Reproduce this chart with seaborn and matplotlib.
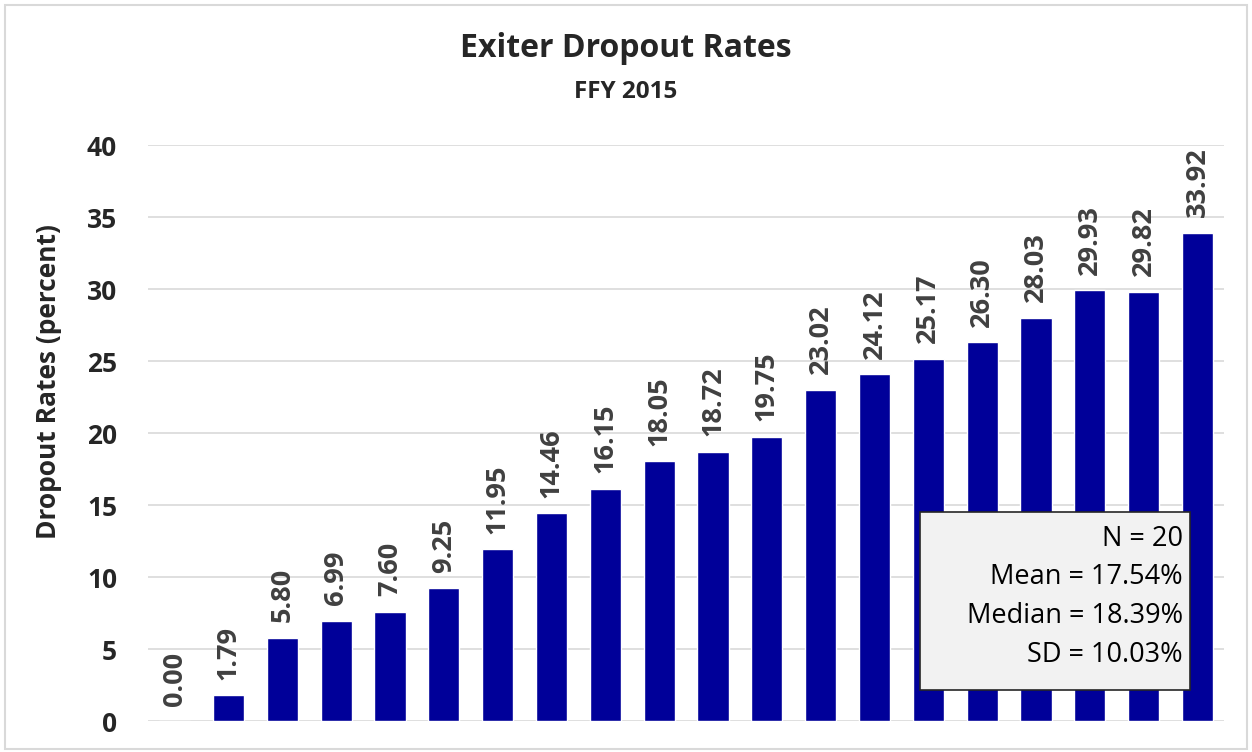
import pandas as pd
import matplotlib.pyplot as plt
import matplotlib.patches as mpatches
import seaborn as sns

# Data
states = [f"S{i}" for i in range(1, 21)]
rates = [0.00, 1.79, 5.80, 6.99, 7.60, 9.25, 11.95, 14.46, 16.15, 18.05,
         18.72, 19.75, 23.02, 24.12, 25.17, 26.30, 28.03, 29.93, 29.82, 33.92]
stats_lines = ["N = 20", "Mean = 17.54%", "Median = 18.39%", "SD = 10.03%"]

df = pd.DataFrame({"State": states, "Rate": rates})

sns.set_style("white")
plt.rcParams['font.family'] = ['Open Sans', 'DejaVu Sans']

fig = plt.figure(figsize=(12.52, 7.52), dpi=100)
ax = fig.add_axes([0.118, 0.041, 0.860, 0.766])

sns.barplot(x="State", y="Rate", data=df, color="#000099", width=0.58,
            saturation=1, ax=ax, zorder=3)

ax.set_ylim(0, 40)
ax.set_xlim(-0.5, 19.5)
ax.set_yticks(range(0, 41, 5))
ax.yaxis.grid(True, color="#d9d9d9", linewidth=1.2, zorder=0)
ax.set_axisbelow(True)
ax.set_xticks([])
ax.set_xlabel("")
ax.set_ylabel("Dropout Rates (percent)", fontsize=19, fontweight="bold")
ax.yaxis.set_label_coords(-0.08, 0.59)
for lbl in ax.get_yticklabels():
    lbl.set_fontsize(19)
    lbl.set_fontweight("bold")
ax.tick_params(axis="y", length=0, pad=22)
sns.despine(ax=ax, left=True, bottom=True, top=True, right=True)

# value labels
for i, v in enumerate(rates):
    ax.annotate(f"{v:.2f}", (i, v), xytext=(0, 11), textcoords="offset points",
                rotation=90, ha="center", va="bottom", fontsize=19.5,
                fontweight="bold", color="#404040", annotation_clip=False)

# titles
fig.text(0.5, 0.935, "Exiter Dropout Rates", ha="center", va="center",
         fontsize=23, fontweight="bold")
fig.text(0.5, 0.877, "FFY 2015", ha="center", va="center",
         fontsize=17.5, fontweight="bold")

# stats box
box = mpatches.Rectangle((920 / 1252, (752 - 690) / 752), 270 / 1252, 178 / 752,
                         transform=fig.transFigure, facecolor="#f2f2f2",
                         edgecolor="#262626", linewidth=1.2, zorder=5)
fig.add_artist(box)
for k, line in enumerate(stats_lines):
    fig.text(1183 / 1252, (752 - 539 - 38.5 * k) / 752, line, ha="right",
             va="center", fontsize=19.5, color="#000000", zorder=6)

# outer border
fig.add_artist(mpatches.Rectangle((0.004, 0.004), 0.992, 0.99,
                                  transform=fig.transFigure, fill=False,
                                  edgecolor="#d9d9d9", linewidth=1.5))

plt.savefig("out.png", dpi=100)
plt.close()
